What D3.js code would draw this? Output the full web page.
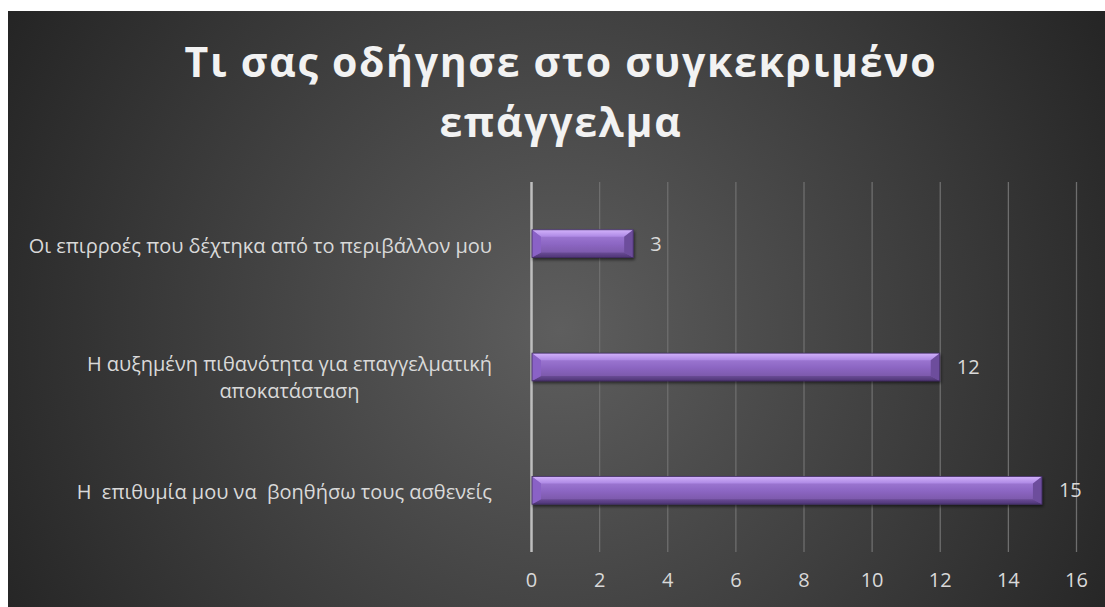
<!DOCTYPE html>
<html>
<head>
<meta charset="utf-8">
<script src="https://cdn.jsdelivr.net/npm/d3@7"></script>
<style>
  body { margin: 0; background: #ffffff; }
</style>
</head>
<body>
<div id="chart"></div>
<script>
const titleLines = ['Τι σας οδήγησε στο συγκεκριμένο', 'επάγγελμα'];
const categories = [
  ['Οι επιρροές που δέχτηκα από το περιβάλλον μου'],
  ['Η αυξημένη πιθανότητα για επαγγελματική', 'αποκατάσταση'],
  ['Η  επιθυμία μου να  βοηθήσω τους ασθενείς']
];
const values = [3, 12, 15];
const xTicks = [0, 2, 4, 6, 8, 10, 12, 14, 16];

const settings = {
  font: '"Open Sans", "DejaVu Sans", sans-serif',
  color: {
    text: 'rgb(217, 217, 217)',
    title: 'rgb(242, 242, 242)',
    grid: 'rgb(110, 110, 110)',
    zero: 'rgb(190, 190, 190)'
  }
};

const
  totalWidth = 1105,
  totalHeight = 607;
const
  frame = { x: 8, y: 11 },
  plot = { left: 531, right: 1076, top: 182, bottom: 552 };

const svg = d3.select('#chart').append('svg')
  .attr('width', totalWidth)
  .attr('height', totalHeight);

const defs = svg.append('defs');

//--------------------- Background ---------------------------------------------
const bg = defs.append('radialGradient')
  .attr('id', 'bgGrad')
  .attr('gradientUnits', 'userSpaceOnUse')
  .attr('cx', 560).attr('cy', 330).attr('r', 640);
bg.append('stop').attr('offset', '0').attr('stop-color', '#5e5e5e');
bg.append('stop').attr('offset', '0.55').attr('stop-color', '#3e3e3e');
bg.append('stop').attr('offset', '1').attr('stop-color', '#242424');

svg.append('rect')
  .attr('x', frame.x).attr('y', frame.y)
  .attr('width', totalWidth - frame.x)
  .attr('height', totalHeight - frame.y)
  .attr('fill', 'url(#bgGrad)');

//--------------------- Bar gradients ------------------------------------------
function vGrad(id, stops){
  const g = defs.append('linearGradient').attr('id', id)
    .attr('x1', 0).attr('y1', 0).attr('x2', 0).attr('y2', 1);
  stops.forEach(s => g.append('stop').attr('offset', s[0]).attr('stop-color', s[1]));
}
vGrad('barFace', [[0, '#a883dc'], [0.5, '#8d67c4'], [1, '#74529f']]);
vGrad('barTop', [[0, '#d2b2fb'], [1, '#ad88e4']]);
vGrad('barBottom', [[0, '#6a4b96'], [1, '#4e3575']]);

const shadow = defs.append('filter').attr('id', 'shadow')
  .attr('x', '-5%').attr('y', '-30%').attr('width', '110%').attr('height', '170%');
shadow.append('feDropShadow')
  .attr('dx', 1).attr('dy', 2).attr('stdDeviation', 1.5)
  .attr('flood-color', '#000').attr('flood-opacity', 0.55);

//--------------------- Title --------------------------------------------------
svg.append('text')
  .attr('text-anchor', 'middle')
  .style('font-family', settings.font)
  .style('font-weight', 700)
  .style('font-size', '41px')
  .style('letter-spacing', '1.7px')
  .style('fill', settings.color.title)
  .selectAll('tspan')
  .data(titleLines)
  .enter()
  .append('tspan')
    .attr('x', 561)
    .attr('y', (d, i) => 77 + i * 60)
    .text(d => d);

//-------------------- Scales --------------------------------------------------
const xScale = d3.scaleLinear()
  .domain([0, 16])
  .range([plot.left, plot.right]);

const yScale = d3.scaleBand()
  .domain(d3.range(categories.length))
  .range([plot.top, plot.bottom])
  .paddingInner(0.775)
  .paddingOuter(0.3875);

//--------------------- Grid & axis --------------------------------------------
const xAxis = d3.axisBottom(xScale)
  .tickValues(xTicks)
  .tickSize(-(plot.bottom - plot.top))
  .tickPadding(21)
  .tickFormat(d3.format('d'));

const xAxisView = svg.append('g')
  .attr('transform', 'translate(0,' + plot.bottom + ')')
  .call(xAxis);
xAxisView.select('.domain').remove();
xAxisView.selectAll('line')
  .style('stroke', (d) => d === 0 ? settings.color.zero : settings.color.grid)
  .style('stroke-width', (d) => d === 0 ? 2.5 : 1.3);
xAxisView.selectAll('text')
  .style('fill', settings.color.text)
  .style('font-family', settings.font)
  .style('font-size', '20px');

//--------------------- Category labels ----------------------------------------
const labels = svg.append('g')
  .selectAll('text')
  .data(categories)
  .enter()
  .append('text')
  .attr('text-anchor', 'middle')
  .attr('xml:space', 'preserve')
  .style('white-space', 'pre')
  .style('font-family', settings.font)
  .style('font-size', '20px')
  .style('fill', settings.color.text);

labels.each(function(lines, i){
  const t = d3.select(this);
  const yc = yScale(i) + yScale.bandwidth() / 2;
  // measure widest line so the block is right aligned, lines centered
  t.selectAll('tspan').data(lines).enter().append('tspan').text(d => d);
  let w = 0;
  t.selectAll('tspan').each(function(){ w = Math.max(w, this.getComputedTextLength()); });
  const cx = 492 - w / 2;
  t.selectAll('tspan')
    .attr('x', cx)
    .attr('y', (d, j) => yc + 9 - (lines.length - 1) * 5 + j * 27);
});

//---------------------Main Bars -----------------------------------------------
const bars = svg.append('g')
  .selectAll('g')
  .data(values)
  .enter()
  .append('g')
  .attr('filter', 'url(#shadow)');

bars.each(function(v, i){
  const g = d3.select(this);
  const x0 = xScale(0) + 1, x1 = xScale(v);
  const y0 = yScale(i), y1 = y0 + yScale.bandwidth();
  const b = 9, bt = 7, bb = 5;
  const poly = (pts, fill) => g.append('polygon')
    .attr('points', pts.map(p => p.join(',')).join(' '))
    .attr('fill', fill);

  g.append('rect')
    .attr('x', x0).attr('y', y0)
    .attr('width', x1 - x0).attr('height', y1 - y0)
    .attr('fill', 'url(#barFace)');
  poly([[x0, y0], [x1, y0], [x1 - b, y0 + bt], [x0 + b, y0 + bt]], 'url(#barTop)');
  poly([[x0, y1], [x1, y1], [x1 - b, y1 - bb], [x0 + b, y1 - bb]], 'url(#barBottom)');
  poly([[x0, y0], [x0 + b, y0 + bt], [x0 + b, y1 - bb], [x0, y1]], '#8a62c6');
  poly([[x1, y0], [x1 - b, y0 + bt], [x1 - b, y1 - bb], [x1, y1]], '#6d4d9c');
  g.append('rect')
    .attr('x', x0).attr('y', y0)
    .attr('width', x1 - x0).attr('height', y1 - y0)
    .attr('fill', 'none')
    .attr('stroke', '#3f2b60')
    .attr('stroke-width', 0.8);
});

//--------------------- Value labels -------------------------------------------
svg.append('g')
  .selectAll('text')
  .data(values)
  .enter()
  .append('text')
  .attr('x', d => xScale(d) + 17)
  .attr('y', (d, i) => yScale(i) + yScale.bandwidth() / 2 + 7)
  .style('font-family', settings.font)
  .style('font-size', '20px')
  .style('fill', settings.color.text)
  .text(d => d);
</script>
</body>
</html>
